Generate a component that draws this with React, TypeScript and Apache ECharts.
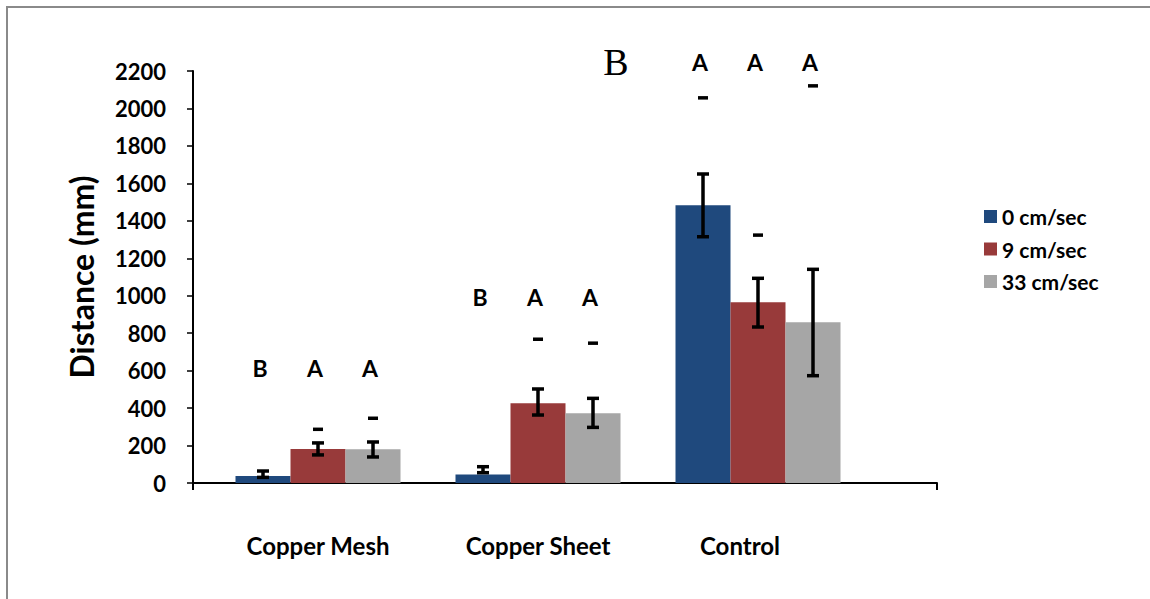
import React, { useEffect, useRef } from "react";
import * as echarts from "echarts";

const categories = ["Copper Mesh", "Copper Sheet", "Control"];
const seriesNames = ["0 cm/sec", "9 cm/sec", "33 cm/sec"];
const speed0 = [37, 46, 1483];
const speed9 = [182, 426, 965];
const speed33 = [180, 372, 858];
const errLow0 = [30, 55, 1315];
const errHigh0 = [64, 87, 1650];
const errLow9 = [150, 363, 833];
const errHigh9 = [214, 502, 1093];
const errLow33 = [139, 297, 573];
const errHigh33 = [219, 452, 1141];
const dash0 = [null, null, 2058];
const dash9 = [288, 769, 1325];
const dash33 = [347, 748, 2122];
const letters0 = ["B", "B", "A"];
const letters9 = ["A", "A", "A"];
const letters33 = ["A", "A", "A"];
const letterLevel = [614, 993, 2248];
const yTicks = { min: 0, max: 2200, interval: 200 };
const colors = ["#1F497D", "#983A3A", "#A6A6A6"];

const FONT = "Lato";

export default function App() {
  const ref = useRef<HTMLDivElement>(null);
  useEffect(() => {
    if (!ref.current) return;
    const chart = echarts.init(ref.current, null, { renderer: "svg" });
    const values = [speed0, speed9, speed33];
    const lows = [errLow0, errLow9, errLow33];
    const highs = [errHigh0, errHigh9, errHigh33];
    const dashes = [dash0, dash9, dash33];
    const letters = [letters0, letters9, letters33];

    const barSeries = values.map((v, k) => ({
      type: "bar",
      name: seriesNames[k],
      xAxisIndex: 1,
      yAxisIndex: 1,
      data: v,
      barGap: "0%",
      barCategoryGap: "25%",
      itemStyle: { color: colors[k] },
    }));

    const customSeries = values.map((v, k) => ({
      type: "custom",
      xAxisIndex: 1,
      yAxisIndex: 1,
      silent: true,
      clip: false,
      z: 5,
      data: categories.map((c, i) => [
        i,
        lows[k][i],
        highs[k][i],
        dashes[k][i] == null ? -1 : dashes[k][i],
        letterLevel[i],
      ]),
      renderItem: (params: any, api: any) => {
        const i = api.value(0);
        const band = api.size([1, 0])[0];
        const barW = (band * 0.75) / 3;
        const cx = api.coord([i, 0])[0] + (k - 1) * barW;
        const yLow = api.coord([i, api.value(1)])[1];
        const yHigh = api.coord([i, api.value(2)])[1];
        const dv = api.value(3);
        const yL = api.coord([i, api.value(4)])[1];
        const children: any[] = [
          {
            type: "line",
            shape: { x1: cx, y1: yLow, x2: cx, y2: yHigh },
            style: { stroke: "#000", lineWidth: 3.5 },
          },
          {
            type: "line",
            shape: { x1: cx - 6, y1: yLow, x2: cx + 6, y2: yLow },
            style: { stroke: "#000", lineWidth: 3.5 },
          },
          {
            type: "line",
            shape: { x1: cx - 6, y1: yHigh, x2: cx + 6, y2: yHigh },
            style: { stroke: "#000", lineWidth: 3.5 },
          },
          {
            type: "text",
            style: {
              x: cx - 3,
              y: yL,
              text: letters[k][i],
              fill: "#000",
              font: `bold 23px ${FONT}`,
              textAlign: "center",
              textVerticalAlign: "middle",
            },
          },
        ];
        if (dv >= 0) {
          const yd = api.coord([i, dv])[1];
          children.push({
            type: "rect",
            shape: { x: cx - 5, y: yd - 1.5, width: 10, height: 3.5 },
            style: { fill: "#000" },
          });
        }
        return { type: "group", children };
      },
    }));

    chart.setOption({
      animation: false,
      backgroundColor: "#fff",
      textStyle: { fontFamily: FONT },
      legend: {
        orient: "vertical",
        left: 979,
        top: 201,
        itemWidth: 13,
        itemHeight: 13,
        itemGap: 11.5,
        icon: "rect",
        data: seriesNames,
        textStyle: { fontSize: 21, fontWeight: "bold", color: "#000", fontFamily: FONT, lineHeight: 21 },
      },
      grid: [
        { left: 193, right: 213, top: 71, bottom: 116 },
        { left: 208, right: 282, top: 71, bottom: 116 },
      ],
      xAxis: [
        {
          gridIndex: 0,
          type: "category",
          data: [""],
          axisLine: { lineStyle: { color: "#000", width: 2 } },
          axisTick: { show: true, length: 7, lineStyle: { color: "#000", width: 2 } },
          axisLabel: { show: false },
        },
        {
          gridIndex: 1,
          type: "category",
          data: categories.map((c, i) =>
            i === 2 ? { value: c, textStyle: { padding: [0, 36, 0, 0] } } : c
          ),
          axisLine: { show: false },
          axisTick: { show: false },
          axisLabel: {
            margin: 50,
            fontSize: 24,
            fontWeight: "bold",
            color: "#000",
            fontFamily: FONT,
          },
        },
      ],
      yAxis: [
        {
          gridIndex: 0,
          type: "value",
          min: yTicks.min,
          max: yTicks.max,
          interval: yTicks.interval,
          name: "Distance (mm)",
          nameLocation: "middle",
          nameRotate: 90,
          nameGap: 96,
          nameTextStyle: { fontSize: 32, fontWeight: "bold", color: "#000", fontFamily: FONT },
          axisLine: { show: true, lineStyle: { color: "#000", width: 2 } },
          axisTick: { show: true, length: 6, lineStyle: { color: "#000", width: 1.5 } },
          splitLine: { show: false },
          axisLabel: {
            margin: 27,
            fontSize: 22,
            fontWeight: "bold",
            color: "#000",
            fontFamily: FONT,
            formatter: (v: number) => String(v),
          },
        },
        {
          gridIndex: 1,
          type: "value",
          min: yTicks.min,
          max: yTicks.max,
          interval: yTicks.interval,
          show: false,
          splitLine: { show: false },
        },
      ],
      graphic: [
        {
          type: "rect",
          shape: { x: 7, y: 7, width: 1200, height: 700 },
          style: { fill: "none", stroke: "#8a8a8a", lineWidth: 2 },
          silent: true,
        },
        {
          type: "text",
          x: 616,
          y: 62,
          style: {
            text: "B",
            font: "38px 'Liberation Serif'",
            fill: "#000",
            textAlign: "center",
            textVerticalAlign: "middle",
          },
        },
      ],
      series: [...barSeries, ...customSeries],
    });
    return () => chart.dispose();
  }, []);
  return (
    <div
      ref={ref}
      style={{ position: "fixed", left: 0, top: 0, width: 1150, height: 599 }}
    />
  );
}
